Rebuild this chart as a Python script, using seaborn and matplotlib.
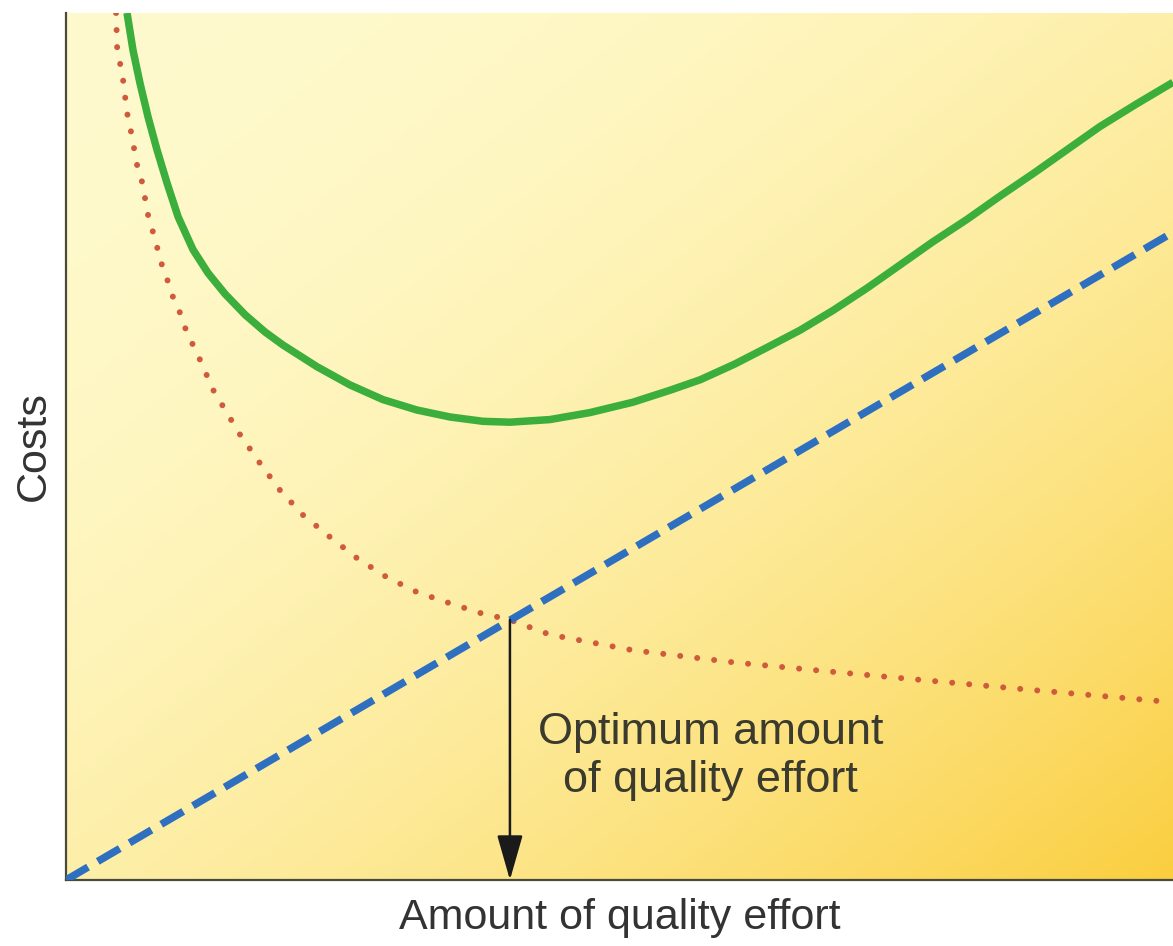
import numpy as np
import matplotlib
matplotlib.use("Agg")
import matplotlib.pyplot as plt
import seaborn as sns

# values (x: quality effort 0-100, y: cost 0-100)
failure_x = [4.52, 4.61, 4.88, 5.15, 5.51, 5.87, 6.41, 6.87, 7.41, 7.86, 8.67,
             9.21, 9.67, 10.3, 10.84, 11.47, 12.1, 13.3, 15.7, 17.5, 19.3,
             21.4, 23.8, 26.3, 29.0, 31.7, 34.7, 37.4, 40.1, 43.7, 51.2, 60.3,
             69.3, 75.3, 87.4, 100.0]
failure_y = [100.0, 96.1, 94.2, 92.3, 88.5, 86.3, 82.5, 80.5, 76.7, 74.7, 70.9,
             69.0, 67.2, 65.4, 63.4, 61.7, 60.0, 56.5, 51.4, 48.1, 45.0, 42.1,
             39.6, 37.1, 34.9, 33.2, 31.9, 30.8, 30.0, 28.3, 26.5, 25.1, 24.0,
             23.3, 21.9, 20.5]

prevention_x = [0.0, 100.0]
prevention_y = [0.0, 74.7]

total_x = [5.51, 6.05, 6.68, 7.41, 8.22, 9.12, 10.12, 11.47, 12.83, 14.36,
           16.17, 17.98, 19.6, 22.67, 25.65, 28.64, 31.71, 34.69, 37.67, 40.1,
           43.7, 47.3, 51.2, 54.6, 57.3, 60.4, 63.3, 66.3, 69.3, 72.4, 75.3,
           78.3, 81.4, 84.4, 87.4, 90.4, 93.4, 96.7, 100.0]
total_y = [100.0, 95.7, 91.9, 88.0, 84.2, 80.4, 76.5, 72.7, 70.0, 67.6, 65.2,
           63.2, 61.7, 59.2, 57.1, 55.4, 54.2, 53.4, 52.9, 52.8, 53.1, 53.9,
           55.1, 56.5, 57.7, 59.5, 61.4, 63.4, 65.7, 68.3, 70.9, 73.6, 76.2,
           78.9, 81.5, 84.2, 86.9, 89.5, 92.0]

optimum_x = 40.1
optimum_y = 30.0

sns.set_style("white")
plt.rcParams["font.family"] = ["Liberation Sans", "DejaVu Sans"]

fig = plt.figure(figsize=(11.73, 9.46), dpi=100, facecolor="white")
ax = fig.add_axes([0.0563, 0.0698, 0.9437, 0.9165])

# warm diagonal background
gx, gy = np.meshgrid(np.linspace(0, 1, 400), np.linspace(0, 1, 400))
t = (0.5 * gx + 0.5 * gy) ** 2
c0 = np.array([255, 250, 205]) / 255
c1 = np.array([250, 206, 62]) / 255
bg = c0[None, None, :] * (1 - t[..., None]) + c1[None, None, :] * t[..., None]
ax.imshow(bg, extent=(0, 100, 0, 100), origin="upper", aspect="auto", zorder=0)

sns.lineplot(x=failure_x, y=failure_y, ax=ax, color="#cf5a3c", lw=4.3,
             linestyle=(0, (0.01, 2.85)), dash_capstyle="round", zorder=3)
sns.lineplot(x=prevention_x, y=prevention_y, ax=ax, color="#2f6fc0", lw=5.4,
             linestyle=(0, (3.4, 1.5)), zorder=4)
sns.lineplot(x=total_x, y=total_y, ax=ax, color="#3cae3c", lw=5.4,
             solid_capstyle="butt", solid_joinstyle="round", zorder=5)

ax.annotate("", xy=(optimum_x, 0), xytext=(optimum_x, optimum_y),
            arrowprops=dict(arrowstyle="-|>,head_length=1.4,head_width=0.4",
                            color="#1a1a1a", lw=1.8, mutation_scale=20,
                            shrinkA=0, shrinkB=0), zorder=6)
ax.text(58.2, 14.2, "Optimum amount\nof quality effort", ha="center",
        va="center", multialignment="center", fontsize=32.5, color="#3b3a2e",
        linespacing=1.22, zorder=7)

ax.set_xlim(0, 100)
ax.set_ylim(0, 100)
ax.set_xticks([])
ax.set_yticks([])
ax.set_xlabel("Amount of quality effort", fontsize=31, color="#333333", labelpad=13)
ax.set_ylabel("Costs", fontsize=31, color="#333333", labelpad=9)
for side in ["top", "right"]:
    ax.spines[side].set_visible(False)
for side in ["left", "bottom"]:
    ax.spines[side].set_color("#4a4a3a")
    ax.spines[side].set_linewidth(1.6)

fig.savefig("out.png", dpi=100, facecolor="white")
